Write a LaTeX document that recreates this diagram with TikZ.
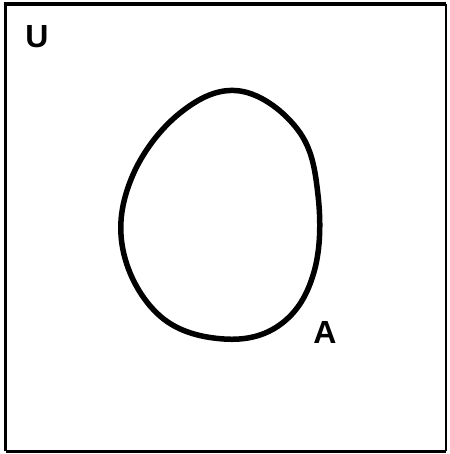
\documentclass[tikz,border=0pt]{standalone}
\usepackage{fontspec}
\setmainfont{Liberation Sans}
\begin{document}
\begin{tikzpicture}[x=1pt,y=-1pt,
  lbl/.style={font=\fontsize{32}{32}\selectfont\bfseries, inner sep=0pt, anchor=center},
  setline/.style={line width=5.5pt, line join=round}]
\useasboundingbox (0,0) rectangle (449,454);
\fill[white] (0,0) rectangle (449,454);
% universe border
\draw[line width=3.5pt] (5.5,451) -- (5.5,4) -- (446,4);
\draw[line width=2pt] (446,4) -- (446,451);
\draw[line width=3pt] (5.5,451) -- (446,451);
\node[lbl] (U) at (37,37) {U};
% set A
\draw[setline] plot[smooth cycle, tension=0.65] coordinates {
  (240,91) (298,130) (318,195) (314,272) (281,324) (224,339)
  (160,316) (123,250) (132,177) (180,113)};
\node[lbl] (A) at (325,332) {A};
\end{tikzpicture}
\end{document}
